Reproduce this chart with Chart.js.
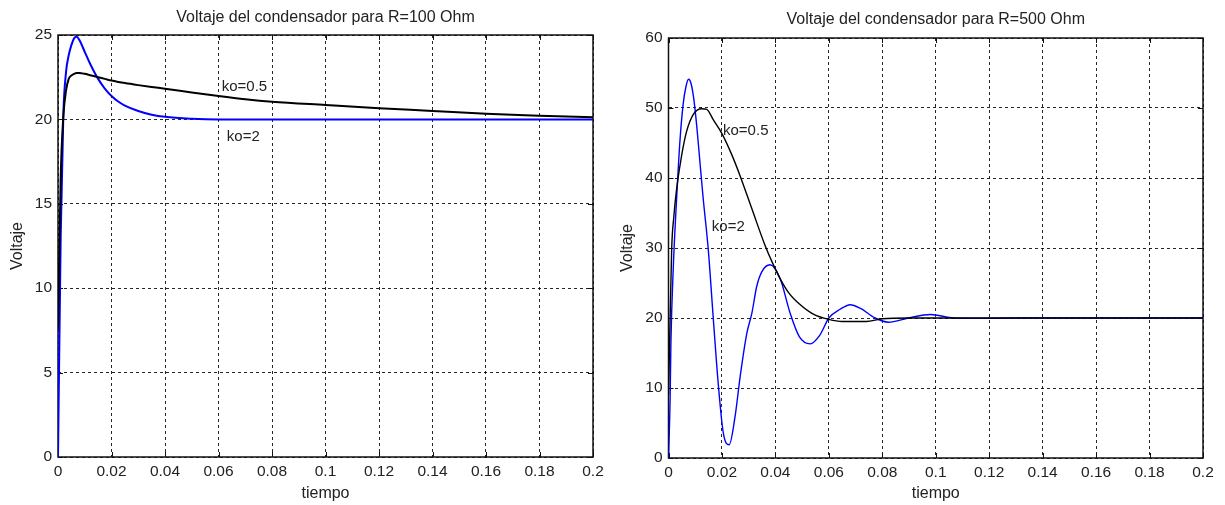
<!DOCTYPE html>
<html>
<head>
<meta charset="utf-8">
<title>Voltaje del condensador</title>
<script src="https://cdn.jsdelivr.net/npm/chart.js@4.4.0/dist/chart.umd.min.js"></script>
<style>
  body { margin: 0; background: #fff; }
  #graphR100 { position: absolute; left: 0; top: 0; }
  #graphR500 { position: absolute; left: 610px; top: 0; }
</style>
</head>
<body>
<canvas id="graphR100" width="610" height="505"></canvas>
<canvas id="graphR500" width="615" height="505"></canvas>
<script>
// R = 100 Ohm
const tiempoR100 = [0, 0.001, 0.002, 0.003, 0.004, 0.005, 0.006, 0.007, 0.008, 0.01, 0.012, 0.015,
  0.0175, 0.02, 0.0225, 0.025, 0.03, 0.035, 0.04, 0.05, 0.06, 0.07, 0.08, 0.1, 0.12, 0.14, 0.16, 0.18, 0.2];
const voltajeR100_ko2 = [0, 13, 20.3, 22.8, 23.8, 24.4, 24.8, 24.9, 24.7, 24.0, 23.3, 22.4,
  21.83, 21.39, 21.06, 20.82, 20.5, 20.28, 20.15, 20.04, 20, 20, 20, 20, 20, 20, 20, 20, 20];
const voltajeR100_ko05 = [7.6, 16.5, 20.2, 21.7, 22.4, 22.6, 22.7, 22.75, 22.75, 22.7, 22.62, 22.5,
  22.4, 22.3, 22.22, 22.15, 22.03, 21.92, 21.82, 21.6, 21.39, 21.2, 21.05, 20.85, 20.66, 20.5, 20.33, 20.22, 20.12];

// R = 500 Ohm
const tiempoR500_ko2 = [0, 0.0006, 0.0009, 0.0018, 0.003, 0.0043, 0.0055, 0.0065, 0.0075, 0.0085,
  0.0095, 0.0106, 0.0118, 0.013, 0.0149, 0.0168, 0.0187, 0.0205, 0.0227, 0.0249,
  0.0268, 0.0293, 0.0312, 0.033, 0.0349, 0.038, 0.0418, 0.0455, 0.049, 0.053,
  0.0567, 0.06, 0.0642, 0.068, 0.0717, 0.0773, 0.0823, 0.0898, 0.098, 0.1067, 0.115, 0.13, 0.2];
const voltajeR500_ko2 = [0, 8.3, 16.4, 27.3, 36.8, 45.4, 50.6, 53.0, 54.1, 53.4,
  51.2, 47.3, 42.1, 37.0, 29.7, 19.7, 10.2, 3.6, 1.9, 5.9,
  11.6, 17.8, 20.7, 24.5, 26.6, 27.6, 25.6, 20.7, 17.3, 16.3,
  17.6, 20.0, 21.25, 21.9, 21.4, 20.0, 19.4, 20.0, 20.5, 20.0, 19.95, 20, 20];
const tiempoR500_ko05 = [0, 0.0005, 0.0012, 0.002, 0.003, 0.0049, 0.0068, 0.0093, 0.0124, 0.0143,
  0.0168, 0.0199, 0.0237, 0.0268, 0.0312, 0.0361, 0.039, 0.0418, 0.045, 0.049,
  0.054, 0.06, 0.065, 0.074, 0.08, 0.09, 0.2];
const voltajeR500_ko05 = [9, 18, 30, 34.5, 38.3, 43.2, 46.7, 49.1, 49.9, 49.8,
  48.3, 46.4, 43.3, 40.3, 35.6, 30.4, 27.8, 25.6, 23.6, 22.0,
  20.6, 19.8, 19.5, 19.5, 19.9, 20, 20];

// ticks
const etiquetasTiempo = ['0', '0.02', '0.04', '0.06', '0.08', '0.1', '0.12', '0.14', '0.16', '0.18', '0.2'];
const etiquetasR100 = ['0', '5', '10', '15', '20', '25'];
const etiquetasR500 = ['0', '10', '20', '30', '40', '50', '60'];

Chart.defaults.font.family = 'Liberation Sans, Arial, Helvetica, sans-serif';
Chart.defaults.color = '#222';

function puntos(t, v) {
  return t.map((x, i) => ({x: x, y: v[i]}));
}

function etiqueta(lista) {
  return function(value) {
    const e = lista.find(s => Math.abs(parseFloat(s) - value) < 1e-9);
    return e === undefined ? '' : e;
  };
}

// box around the plot with inward ticks, like matlab
const marco = {
  id: 'marco',
  beforeDatasetsDraw(chart) {
    const {ctx, chartArea: a, scales: {x, y}} = chart;
    ctx.save();
    ctx.strokeStyle = '#111';
    ctx.lineWidth = 1;
    ctx.beginPath();
    x.ticks.forEach(t => {
      const px = Math.round(x.getPixelForValue(t.value)) + 0.5;
      ctx.moveTo(px, a.bottom); ctx.lineTo(px, a.bottom - 5);
      ctx.moveTo(px, a.top); ctx.lineTo(px, a.top + 5);
    });
    y.ticks.forEach(t => {
      const py = Math.round(y.getPixelForValue(t.value)) + 0.5;
      ctx.moveTo(a.left, py); ctx.lineTo(a.left + 5, py);
      ctx.moveTo(a.right, py); ctx.lineTo(a.right - 5, py);
    });
    ctx.stroke();
    ctx.lineWidth = 1.5;
    ctx.strokeRect(a.left, a.top, a.right - a.left, a.bottom - a.top);
    ctx.restore();
  }
};

function createChart(id, cfg) {
  // text next to each curve, placed in data units
  const textos = {
    id: 'textos',
    afterDatasetsDraw(chart) {
      const {ctx, scales: {x, y}} = chart;
      ctx.save();
      ctx.font = '15px Liberation Sans, Arial, sans-serif';
      ctx.fillStyle = '#222';
      ctx.textBaseline = 'middle';
      ctx.textAlign = 'left';
      cfg.textos.forEach(t => ctx.fillText(t.texto, x.getPixelForValue(t.x), y.getPixelForValue(t.y)));
      ctx.restore();
    }
  };

  return new Chart(document.getElementById(id), {
    type: 'line',
    data: {
      datasets: [{
        label: 'ko=0.5',
        data: cfg.ko05,
        borderColor: '#000',
        borderWidth: cfg.grosor,
        order: 0
      }, {
        label: 'ko=2',
        data: cfg.ko2,
        borderColor: '#0000ff',
        borderWidth: cfg.grosor,
        order: 1
      }]
    },
    options: {
      responsive: false,
      animation: false,
      parsing: false,
      elements: {
        point: { radius: 0 },
        line: { cubicInterpolationMode: 'monotone', fill: false }
      },
      layout: { padding: { left: 0, right: cfg.derecha, top: 0, bottom: 0 } },
      plugins: {
        legend: { display: false },
        tooltip: { enabled: false },
        title: {
          display: true,
          fullSize: false,
          text: cfg.titulo,
          color: '#222',
          font: { size: 16, weight: 'normal' },
          padding: cfg.padTitulo
        }
      },
      scales: {
        x: {
          type: 'linear',
          min: 0,
          max: 0.2,
          afterFit(scale) { scale.height = cfg.altoX; },
          ticks: {
            stepSize: 0.02,
            autoSkip: false,
            maxRotation: 0,
            padding: 5,
            font: { size: 15.5 },
            callback: etiqueta(etiquetasTiempo)
          },
          grid: { color: 'rgba(0,0,0,0.85)', drawTicks: false, lineWidth: 1 },
          border: { display: false, dash: [3, 3] },
          title: { display: true, text: 'tiempo', font: { size: 16 }, padding: { top: 0, bottom: 2 } }
        },
        y: {
          min: 0,
          max: cfg.maxY,
          afterFit(scale) { scale.width = cfg.anchoY; },
          ticks: {
            stepSize: cfg.pasoY,
            padding: 6,
            font: { size: 15.5 },
            callback: etiqueta(cfg.etiquetasY)
          },
          grid: { color: 'rgba(0,0,0,0.85)', drawTicks: false, lineWidth: 1 },
          border: { display: false, dash: [3, 3] },
          title: { display: true, text: 'Voltaje', font: { size: 16 }, padding: { top: 8, bottom: 0 } }
        }
      }
    },
    plugins: [marco, textos]
  });
}

createChart('graphR100', {
  titulo: 'Voltaje del condensador para R=100 Ohm',
  ko2: puntos(tiempoR100, voltajeR100_ko2),
  ko05: puntos(tiempoR100, voltajeR100_ko05),
  grosor: 2,
  maxY: 25,
  pasoY: 5,
  etiquetasY: etiquetasR100,
  anchoY: 58,
  altoX: 48,
  derecha: 17,
  padTitulo: { top: 8, bottom: 7.8 },
  textos: [
    { texto: 'ko=0.5', x: 0.0612, y: 21.9 },
    { texto: 'ko=2', x: 0.0631, y: 18.98 }
  ]
});

createChart('graphR500', {
  titulo: 'Voltaje del condensador para R=500 Ohm',
  ko2: puntos(tiempoR500_ko2, voltajeR500_ko2),
  ko05: puntos(tiempoR500_ko05, voltajeR500_ko05),
  grosor: 1.4,
  maxY: 60,
  pasoY: 10,
  etiquetasY: etiquetasR500,
  anchoY: 58.5,
  altoX: 47,
  derecha: 22,
  padTitulo: { top: 9.6, bottom: 9.2 },
  textos: [
    { texto: 'ko=0.5', x: 0.0204, y: 46.7 },
    { texto: 'ko=2', x: 0.0162, y: 33.0 }
  ]
});
</script>
</body>
</html>
